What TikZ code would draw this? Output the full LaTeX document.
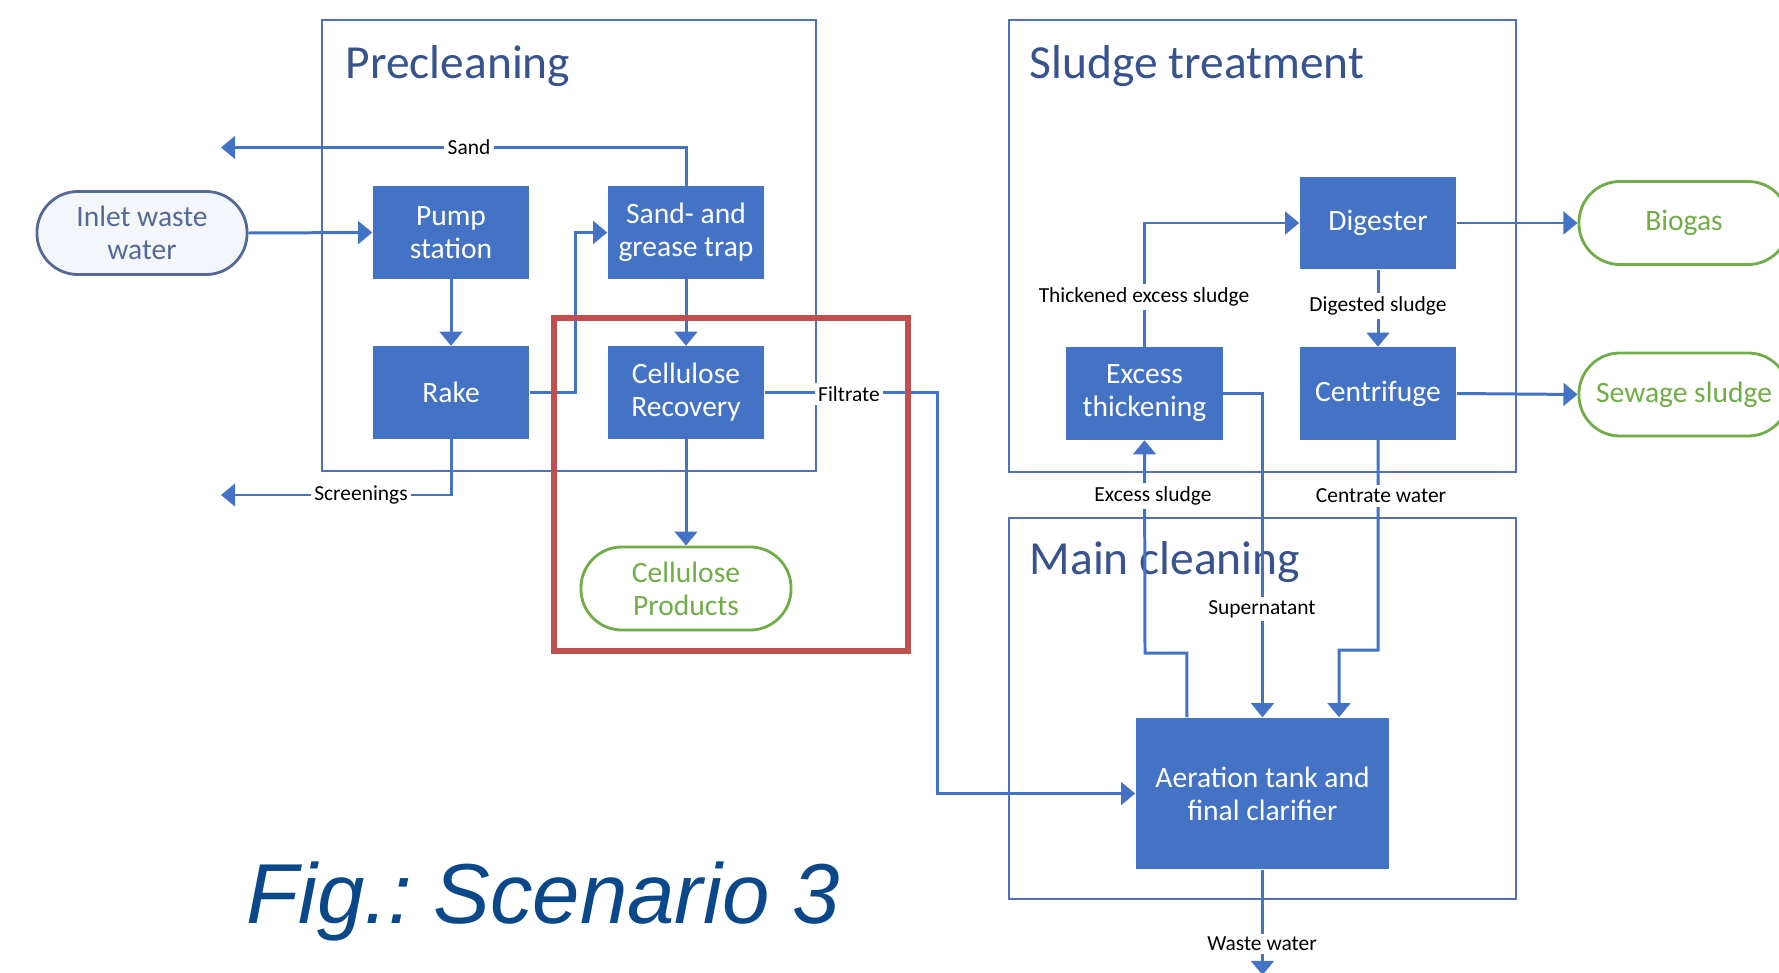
\documentclass[tikz,border=0pt]{standalone}
\usepackage{fontspec}
\setmainfont{Carlito}
\newfontfamily\figfont{Liberation Sans}
\usetikzlibrary{arrows.meta}
\definecolor{boxblue}{RGB}{68,114,196}
\definecolor{lineblue}{RGB}{68,114,196}
\definecolor{groupblue}{RGB}{80,112,190}
\definecolor{titleblue}{RGB}{55,82,140}
\definecolor{inlettext}{RGB}{85,105,150}
\definecolor{inletfill}{RGB}{243,246,251}
\definecolor{prodgreen}{RGB}{112,173,71}
\definecolor{redbox}{RGB}{192,80,77}
\definecolor{figblue}{RGB}{10,72,138}
\tikzset{
  proc/.style={fill=boxblue, draw=none, text=white, align=center, inner sep=0pt,
    font=\fontsize{8.4}{9.4}\selectfont, minimum width=1.56cm, minimum height=0.92cm},
  term/.style={draw=#1, line width=0.8pt, rounded corners=0.41cm, align=center, inner sep=0pt,
    font=\fontsize{8.4}{9.4}\selectfont, minimum width=2.1cm, minimum height=0.83cm},
  arr/.style={draw=lineblue, line width=0.85pt, -{Triangle[length=4pt,width=6.4pt]}},
  lab/.style={fill=white, inner sep=1pt, text=black, font=\fontsize{6.1}{7}\selectfont},
  group/.style={draw=groupblue, line width=0.7pt},
  grouptitle/.style={anchor=base west, inner sep=0pt, text=titleblue, font=\fontsize{13.5}{15}\selectfont}
}
\begin{document}
\begin{tikzpicture}[x=0.01cm,y=-0.01cm]
\useasboundingbox (0,0) rectangle (1779,973);
\clip (0,0) rectangle (1779,973);
\fill[white] (0,0) rectangle (1779,973);

% group boxes
\draw[group] (322,20) rectangle (816,471);
\draw[group] (1009,20) rectangle (1516,472);
\draw[group] (1009,518) rectangle (1516,899);
\node[grouptitle] (tpre) at (345,79) {Precleaning};
\node[grouptitle] (tsl) at (1029,79) {Sludge treatment};
\node[grouptitle] (tmain) at (1029,574) {Main cleaning};

% nodes
\node[term=inlettext, fill=inletfill, text=inlettext] (inlet) at (142,233) {Inlet waste\\water};
\node[proc] (pump) at (451,232.5) {Pump\\station};
\node[proc] (sand) at (686,232.5) {Sand- and\\grease trap};
\node[proc] (rake) at (451,392.5) {Rake};
\node[proc] (cr) at (686,392.5) {Cellulose\\Recovery};
\node[term=prodgreen, text=prodgreen] (prod) at (686,588.5) {Cellulose\\Products};
\node[proc] (dig) at (1378,223) {Digester};
\node[proc] (et) at (1144.5,393.5) {Excess\\thickening};
\node[proc] (cen) at (1378,393.5) {Centrifuge};
\node[proc, minimum width=2.53cm, minimum height=1.51cm] (aer) at (1262.5,793.5) {Aeration tank and\\final clarifier};
\node[term=prodgreen, text=prodgreen] (bio) at (1684,223) {Biogas};
\node[term=prodgreen, text=prodgreen] (sew) at (1684,394.5) {Sewage sludge};

\coordinate (sandend) at (221,147.5);
\coordinate (scrend) at (221,495);
\coordinate (wend) at (1262.5,975);

% connectors
\draw[arr] (inlet.east) -- (pump.west);
\draw[arr] (pump) -- (rake);
\draw[arr] (rake.east) -- ++(46,0) |- (sand.west);
\draw[arr] (sand.north) |- (sandend);
\draw[arr] (sand) -- (cr);
\draw[arr] (rake.south) |- (scrend);
\draw[arr] (cr) -- (prod);
\draw[arr] (cr.east) -- ++(173,0) |- (aer.west);
\draw[arr] ([xshift=-0.755cm]aer.north) |- (1145,653) -- (et.south);
\draw[arr] (et.north) |- (dig.west);
\draw[arr] (dig) -- (cen);
\draw[arr] (dig.east) -- (bio.west);
\draw[arr] (cen.east) -- (sew.west);
\draw[arr] (et.east) -| (aer.north);
\draw[arr] (cen.south) |- (1339,650) -- ([xshift=0.765cm]aer.north);
\draw[arr] (aer.south) -- (wend);

% labels
\node[lab] (lsand) at (469,147.5) {Sand};
\node[lab] (lscr) at (361,495) {Screenings};
\node[lab] (lfil) at (849,394) {Filtrate};
\node[lab] (lthick) at (1144,297) {Thickened excess sludge};
\node[lab] (ldig) at (1378,306) {Digested sludge};
\node[lab] (lexc) at (1153,496) {Excess sludge};
\node[lab] (lcen) at (1381,496) {Centrate water};
\node[lab] (lsup) at (1262,609) {Supernatant};
\node[lab] (lwaste) at (1262,944) {Waste water};

% highlight box
\draw[redbox, line width=1.6pt] (554,318) rectangle (908,651);

% caption
\node[anchor=base west, inner sep=0pt, text=figblue, font=\figfont\itshape\fontsize{24.2}{28}\selectfont] (fig) at (246,923) {Fig.:\hspace{0.25em}Scenario 3};
\end{tikzpicture}
\end{document}
